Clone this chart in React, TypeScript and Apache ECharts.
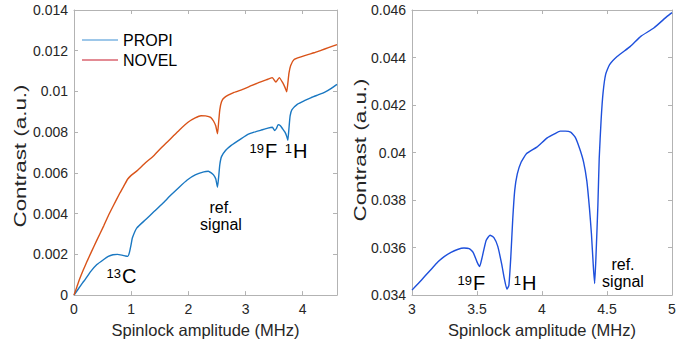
import React, { useEffect, useRef } from "react";
import * as echarts from "echarts";

// Left panel: PROPI (blue) and NOVEL (orange)
const propiX = [0, 0.05, 0.1, 0.15, 0.2, 0.29, 0.4, 0.52, 0.6, 0.68, 0.76, 0.84, 0.9, 0.94, 0.97, 1.0, 1.02, 1.1, 1.25, 1.4, 1.55, 1.69, 1.84, 1.98, 2.12, 2.27, 2.35, 2.4, 2.44, 2.48, 2.51, 2.53, 2.55, 2.58, 2.65, 2.75, 2.92, 3.05, 3.15, 3.27, 3.39, 3.47, 3.51, 3.54, 3.57, 3.61, 3.65, 3.69, 3.72, 3.74, 3.76, 3.78, 3.81, 3.91, 4.03, 4.15, 4.27, 4.38, 4.5, 4.6];
const propiY = [0, 0.0002, 0.0004, 0.0006, 0.00078, 0.00115, 0.0015, 0.00175, 0.0019, 0.00198, 0.002, 0.00196, 0.00192, 0.0019, 0.0021, 0.0025, 0.0028, 0.0033, 0.0037, 0.0041, 0.0045, 0.0049, 0.0053, 0.00565, 0.0059, 0.00605, 0.00608, 0.006, 0.0059, 0.0057, 0.0053, 0.0058, 0.0064, 0.0068, 0.0071, 0.00735, 0.00767, 0.0079, 0.008, 0.0081, 0.0082, 0.00824, 0.00808, 0.00818, 0.00837, 0.00832, 0.00816, 0.008, 0.0078, 0.0076, 0.0082, 0.0088, 0.0091, 0.00938, 0.00955, 0.0097, 0.00983, 0.00995, 0.01015, 0.01035];

const novelX = [0, 0.05, 0.1, 0.16, 0.23, 0.3, 0.4, 0.52, 0.6, 0.69, 0.8, 0.88, 0.94, 1.0, 1.1, 1.25, 1.4, 1.55, 1.69, 1.84, 2.0, 2.12, 2.22, 2.3, 2.39, 2.44, 2.48, 2.51, 2.53, 2.55, 2.58, 2.63, 2.8, 2.95, 3.09, 3.24, 3.39, 3.47, 3.53, 3.59, 3.65, 3.69, 3.72, 3.74, 3.76, 3.79, 3.85, 3.97, 4.09, 4.2, 4.32, 4.45, 4.6];
const novelY = [0, 0.0004, 0.0008, 0.00122, 0.00167, 0.0021, 0.0027, 0.0034, 0.0039, 0.0044, 0.005, 0.0054, 0.0057, 0.00588, 0.0061, 0.0065, 0.00686, 0.0073, 0.00768, 0.0081, 0.0085, 0.0087, 0.00881, 0.0088, 0.00873, 0.00855, 0.0083, 0.00792, 0.0085, 0.0091, 0.0095, 0.0097, 0.00995, 0.0101, 0.01027, 0.01045, 0.0106, 0.01068, 0.01046, 0.01068, 0.01043, 0.0102, 0.00998, 0.0104, 0.0109, 0.01128, 0.01157, 0.0117, 0.01181, 0.0119, 0.01202, 0.01215, 0.0123];

// Right panel: single blue trace
const rightX = [3.0, 3.05, 3.1, 3.15, 3.2, 3.25, 3.3, 3.35, 3.4, 3.44, 3.47, 3.5, 3.52, 3.54, 3.57, 3.6, 3.63, 3.66, 3.69, 3.71, 3.73, 3.745, 3.76, 3.775, 3.79, 3.81, 3.84, 3.88, 3.96, 4.04, 4.1, 4.14, 4.18, 4.22, 4.255, 4.29, 4.32, 4.345, 4.365, 4.38, 4.395, 4.405, 4.415, 4.43, 4.44, 4.455, 4.47, 4.49, 4.52, 4.58, 4.68, 4.76, 4.86, 4.96, 5.0];
const rightY = [0.03421, 0.0345, 0.0348, 0.0351, 0.0354, 0.03563, 0.0358, 0.03592, 0.03598, 0.03596, 0.0358, 0.0354, 0.0352, 0.0356, 0.0363, 0.03652, 0.03642, 0.03605, 0.0353, 0.0347, 0.03425, 0.0344, 0.0356, 0.0372, 0.0384, 0.0391, 0.0396, 0.03995, 0.04023, 0.04062, 0.0408, 0.0409, 0.0409, 0.04086, 0.04065, 0.04016, 0.0396, 0.0388, 0.03766, 0.0366, 0.0352, 0.03449, 0.0356, 0.0378, 0.03974, 0.0414, 0.04253, 0.0433, 0.0437, 0.04405, 0.04447, 0.04489, 0.04524, 0.04572, 0.04589];

const seriesNames = ["PROPI", "NOVEL"];
const xTitle = "Spinlock amplitude (MHz)";
const yTitle = "Contrast (a.u.)";

const FONT = "'Liberation Sans', Arial, sans-serif";
const AXIS_GRAY = "#b3b3b3";
const TEXT = "#262626";

const zip = (xs: number[], ys: number[]) => xs.map((x, i) => [x, ys[i]]);

function mainX(gridIndex: number, min: number, max: number, interval: number, showMax: boolean) {
  return {
    type: "value",
    gridIndex,
    min,
    max,
    interval,
    position: "bottom",
    name: xTitle,
    nameLocation: "middle",
    nameGap: 21,
    nameTextStyle: { fontFamily: FONT, fontSize: 16.5, color: TEXT },
    axisLine: { show: true, onZero: false, lineStyle: { color: AXIS_GRAY, width: 1 } },
    axisTick: { show: true, inside: true, length: 4, lineStyle: { color: AXIS_GRAY } },
    axisLabel: { fontFamily: FONT, fontSize: 14, color: TEXT, margin: 7, showMaxLabel: showMax },
    splitLine: { show: false },
  };
}
function boxX(gridIndex: number, min: number, max: number, interval: number) {
  return {
    type: "value",
    gridIndex,
    min,
    max,
    interval,
    position: "top",
    axisLine: { show: true, onZero: false, lineStyle: { color: AXIS_GRAY, width: 1 } },
    axisTick: { show: true, inside: true, length: 4, lineStyle: { color: AXIS_GRAY } },
    axisLabel: { show: false },
    splitLine: { show: false },
  };
}
function mainY(gridIndex: number, min: number, max: number, interval: number) {
  return {
    type: "value",
    gridIndex,
    min,
    max,
    interval,
    position: "left",
    axisLine: { show: true, onZero: false, lineStyle: { color: AXIS_GRAY, width: 1 } },
    axisTick: { show: true, inside: true, length: 4, lineStyle: { color: AXIS_GRAY } },
    axisLabel: { fontFamily: FONT, fontSize: 14, color: TEXT, margin: 6 },
    splitLine: { show: false },
  };
}
function boxY(gridIndex: number, min: number, max: number, interval: number) {
  return {
    type: "value",
    gridIndex,
    min,
    max,
    interval,
    position: "right",
    axisLine: { show: true, onZero: false, lineStyle: { color: AXIS_GRAY, width: 1 } },
    axisTick: { show: true, inside: true, length: 4, lineStyle: { color: AXIS_GRAY } },
    axisLabel: { show: false },
    splitLine: { show: false },
  };
}

function label(text: string, x: number, y: number, size: number, align: string, lineHeight?: number) {
  return {
    type: "text",
    x,
    y,
    silent: true,
    style: {
      text,
      fontFamily: FONT,
      fontSize: size,
      lineHeight: lineHeight || size,
      fill: "#000",
      align,
      verticalAlign: "middle",
    },
  };
}

// vertical axis title (drawn bottom-to-top, stretched along its length as in the reference)
function yTitleText(x: number, y: number) {
  return {
    type: "text",
    x,
    y,
    rotation: Math.PI / 2,
    scaleX: 1.4,
    silent: true,
    style: {
      text: yTitle,
      fontFamily: FONT,
      fontSize: 16,
      fill: TEXT,
      align: "center",
      verticalAlign: "middle",
    },
  };
}

// nucleus label: superscript mass number + element symbol, by baseline B and letter left edge L
function nucleus(sup: string, el: string, L: number, B: number) {
  return [label(sup, L - 1, B - 10, 13, "right"), label(el, L, B - 7, 20, "left")];
}

export default function App() {
  const ref = useRef<HTMLDivElement>(null);
  useEffect(() => {
    if (!ref.current) return;
    const chart = echarts.init(ref.current, null, { renderer: "svg" });
    const lineSeries = (name: string, xi: number, data: number[][], color: string) => ({
      name,
      type: "line",
      xAxisIndex: xi,
      yAxisIndex: xi,
      data,
      symbol: "none",
      smooth: 0.15,
      lineStyle: { color, width: 1.4 },
      itemStyle: { color },
    });
    chart.setOption({
      animation: false,
      backgroundColor: "#fff",
      grid: [
        { left: 74, top: 10, width: 263, height: 288 },
        { left: 412, top: 10, width: 260, height: 288 },
      ],
      xAxis: [
        mainX(0, 0, 4.6, 1, false),
        boxX(0, 0, 4.6, 1),
        mainX(1, 3, 5, 0.5, true),
        boxX(1, 3, 5, 0.5),
      ],
      yAxis: [
        mainY(0, 0, 0.014, 0.002),
        boxY(0, 0, 0.014, 0.002),
        mainY(1, 0.034, 0.046, 0.002),
        boxY(1, 0.034, 0.046, 0.002),
      ],
      legend: {
        orient: "vertical",
        left: 82,
        top: 32,
        padding: 0,
        itemWidth: 36,
        itemHeight: 14,
        itemGap: 4,
        textStyle: { fontFamily: FONT, fontSize: 16, color: "#000" },
        data: [
          { name: seriesNames[0], icon: "path://M0,0 L36,0 L36,1 L0,1 Z", itemStyle: { color: "#3d8fd4" } },
          { name: seriesNames[1], icon: "path://M0,0 L36,0 L36,1 L0,1 Z", itemStyle: { color: "#c8182a" } },
        ],
      },
      series: [
        lineSeries(seriesNames[0], 0, zip(propiX, propiY), "#1a78c2"),
        lineSeries(seriesNames[1], 0, zip(novelX, novelY), "#d95319"),
        lineSeries("right", 2, zip(rightX, rightY), "#1e50dc"),
      ],
      graphic: [
        yTitleText(20, 156),
        yTitleText(360, 150),
        ...nucleus("13", "C", 122, 283),
        label("ref.\nsignal", 221, 216, 16, "center", 17),
        ...nucleus("19", "F", 265, 158),
        ...nucleus("1", "H", 293, 158),
        ...nucleus("19", "F", 473, 290),
        ...nucleus("1", "H", 522, 290),
        label("ref.\nsignal", 623, 273, 16, "center", 17),
      ],
    });
    return () => chart.dispose();
  }, []);
  return (
    <div
      ref={ref}
      style={{ position: "absolute", left: 0, top: 0, width: 700, height: 343 }}
    />
  );
}
